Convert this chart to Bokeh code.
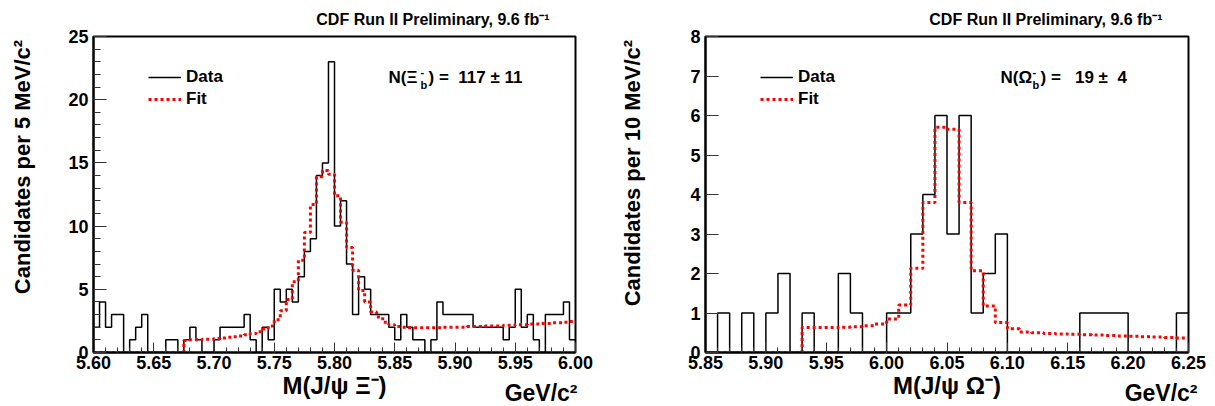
import numpy as np
from bokeh.plotting import figure
from bokeh.layouts import row
from bokeh.models import (Range1d, FixedTicker, PrintfTickFormatter, Label,
                          Legend, LegendItem, Title)
from bokeh.embed import file_html
from bokeh.resources import INLINE

FONT = "Liberation Sans"
NB = "\u00a0"

# ---------------- data ----------------
# Xi_b^- : 5 MeV bins from 5.60 to 6.00 GeV
xi_range = (5.60, 6.00)
xi_counts = [2, 4, 2, 3, 3, 0, 1, 2, 3, 0,
             0, 0, 1, 1, 0, 1, 2, 1, 0, 0,
             1, 2, 2, 2, 2, 3, 1, 0, 2, 1,
             5, 4, 5, 4, 6, 8, 9, 14, 15, 23,
             10, 12, 7, 3, 6, 5, 3, 3, 3, 2,
             1, 3, 2, 1, 1, 0, 1, 4, 3, 3,
             3, 3, 3, 2, 2, 2, 2, 2, 1, 2,
             5, 2, 3, 1, 0, 3, 3, 3, 4, 1]
xi_fit = [0, 0, 0, 0, 0, 0, 0, 0, 0, 0,
          0, 0, 0, 0, 0, 0.95, 1.0, 1.0, 1.05, 1.05,
          1.1, 1.15, 1.2, 1.25, 1.3, 1.4, 1.5, 1.65, 1.85, 2.1,
          2.6, 3.3, 4.2, 5.6, 7.3, 9.5, 11.7, 13.9, 14.4, 14.1,
          12.4, 10.3, 8.3, 6.5, 4.9, 4.0, 3.2, 2.8, 2.4, 2.2,
          2.05, 2.0, 1.95, 1.95, 1.95, 1.95, 1.95, 1.95, 2.0, 2.0,
          2.0, 2.0, 2.05, 2.05, 2.05, 2.1, 2.1, 2.1, 2.15, 2.15,
          2.2, 2.2, 2.25, 2.25, 2.3, 2.3, 2.35, 2.35, 2.4, 2.45]
xi_yticks = [0, 5, 10, 15, 20, 25]
xi_xticks = [5.60, 5.65, 5.70, 5.75, 5.80, 5.85, 5.90, 5.95, 6.00]

# Omega_b^- : 10 MeV bins from 5.85 to 6.25 GeV
om_range = (5.85, 6.25)
om_counts = [0, 1, 0, 1, 0, 1, 2, 0, 1, 0,
             0, 2, 1, 0, 0, 1, 1, 3, 4, 6,
             3, 6, 1, 2, 3, 0, 0, 0, 0, 0,
             0, 1, 1, 1, 1, 0, 0, 0, 0, 1]
om_fit = [0, 0, 0, 0, 0, 0, 0, 0, 0.63, 0.63,
          0.63, 0.64, 0.65, 0.68, 0.72, 0.85, 1.2, 2.13, 3.8, 5.7,
          5.65, 3.8, 2.07, 1.18, 0.76, 0.6, 0.52, 0.5, 0.48, 0.47,
          0.46, 0.45, 0.44, 0.43, 0.42, 0.41, 0.4, 0.39, 0.38, 0.37]
om_yticks = [0, 1, 2, 3, 4, 5, 6, 7, 8]
om_xticks = [5.85, 5.90, 5.95, 6.00, 6.05, 6.10, 6.15, 6.20, 6.25]

TITLE = "CDF Run II Preliminary, 9.6 fb\u207b\u00b9"


def make_panel(xr, counts, fit, yticks, xticks, ymax, minor_y,
               border_left, frame_w, border_right, ylabel, xlabel,
               ylabel_standoff, ylabel_pad, unit_dx):
    p = figure(output_backend="svg", toolbar_location=None,
               frame_width=frame_w, frame_height=316,
               min_border_left=border_left, min_border_right=border_right,
               min_border_top=34, min_border_bottom=52,
               x_range=Range1d(*xr), y_range=Range1d(0, ymax))
    p.background_fill_color = "white"
    p.border_fill_color = "white"
    p.outline_line_color = "black"
    p.outline_line_width = 2
    p.xgrid.visible = False
    p.ygrid.visible = False

    n = len(counts)
    edges = np.linspace(xr[0], xr[1], n + 1)
    hy = list(counts) + [counts[-1]]
    fy = list(fit) + [fit[-1]]
    r_data = p.step(edges, hy, mode="after", line_color="black", line_width=1.5)
    r_fit = p.step(edges, fy, mode="after", line_color="#ff0000", line_width=3,
                   line_dash="3 3")

    xminor = list(np.round(np.arange(xr[0], xr[1] + 1e-9, 0.01), 3))
    p.xaxis.ticker = FixedTicker(ticks=xticks, minor_ticks=xminor)
    p.xaxis.formatter = PrintfTickFormatter(format="%.2f")
    p.yaxis.ticker = FixedTicker(ticks=yticks, minor_ticks=minor_y)
    for ax in (p.xaxis, p.yaxis):
        ax.axis_line_width = 2
        ax.major_tick_out = 0
        ax.minor_tick_out = 0
        ax.major_tick_line_width = 1
        ax.minor_tick_line_width = 1
        ax.major_tick_line_color = "#333333"
        ax.minor_tick_line_color = "#333333"
        ax.major_label_text_font = FONT
        ax.major_label_text_font_style = "bold"
        ax.major_label_text_font_size = "18px"
        ax.major_label_text_color = "black"
        ax.axis_label_text_font = FONT
        ax.axis_label_text_font_style = "bold"
        ax.axis_label_text_color = "black"
    p.xaxis.major_tick_in = 10
    p.xaxis.minor_tick_in = 5
    p.xaxis.major_label_standoff = 3
    p.yaxis.major_tick_in = 13
    p.yaxis.minor_tick_in = 7
    p.yaxis.major_label_standoff = 5

    # ROOT puts the y title towards the top end: leading no-break spaces shift it up
    p.yaxis.axis_label = NB * ylabel_pad + ylabel
    p.yaxis.axis_label_text_font_size = "22px"
    p.yaxis.axis_label_standoff = ylabel_standoff
    p.xaxis.axis_label = xlabel
    p.xaxis.axis_label_text_font_size = "24px"
    p.xaxis.axis_label_standoff = 0

    p.add_layout(Title(text=TITLE, align="right", offset=26, standoff=17,
                       text_font=FONT, text_font_style="bold",
                       text_font_size="16px", text_color="black"), "above")

    leg = Legend(items=[LegendItem(label="Data", renderers=[r_data]),
                        LegendItem(label="Fit", renderers=[r_fit])],
                 location=(55, 242), padding=0, margin=0, spacing=0,
                 label_height=22, glyph_height=22, glyph_width=33,
                 label_standoff=5, label_text_font=FONT,
                 label_text_font_style="bold", label_text_font_size="17px",
                 label_text_color="black",
                 border_line_alpha=0, background_fill_alpha=0)
    p.add_layout(leg)

    # unit label at the lower right, below the axis (side panel, not clipped)
    p.add_layout(Label(x=frame_w + unit_dx, y=35, x_units="screen", y_units="screen",
                       text="GeV/c\u00b2", text_font=FONT, text_font_style="bold",
                       text_font_size="23px", text_align="right",
                       text_baseline="middle", text_color="black"), "below")
    return p


def put(p, fr, X, Y, text, size, align="left", baseline="middle"):
    fx, fy, fw, fh, x0, x1, y0, y1 = fr
    x = x0 + (X - fx) / fw * (x1 - x0)
    y = y0 + (fy + fh - Y) / fh * (y1 - y0)
    p.add_layout(Label(x=x, y=y, text=text, text_font_size=f"{size}px",
                       text_font=FONT, text_font_style="bold",
                       text_align=align, text_baseline=baseline,
                       text_color="black"))


p1 = make_panel(xi_range, xi_counts, xi_fit, xi_yticks, xi_xticks, 25,
                list(range(0, 26)), 93, 482, 32,
                "Candidates per 5 MeV/c\u00b2", "M(J/\u03c8 \u039e\u207b)", 30, 9, 2)
p2 = make_panel(om_range, om_counts, om_fit, om_yticks, om_xticks, 8,
                [], 98, 483, 18,
                "Candidates per 10 MeV/c\u00b2", "M(J/\u03c8 \u03a9\u207b)", 42, 7, 9)

# frame geometry in page pixels (for placing the texts inside the frames)
fr1 = (93, 34, 482, 316, xi_range[0], xi_range[1], 0, 25)
fr2 = (705, 34, 483, 316, om_range[0], om_range[1], 0, 8)

for p, fr, dx, part, nval in (
        (p1, fr1, 0, "\u039e", ")" + NB + "=" + NB + NB + "117" + NB + "\u00b1" + NB + "11"),
        (p2, fr2, 612, "\u03a9", ")" + NB + "=" + NB + NB + NB + "19" + NB + "\u00b1" + NB + NB + "4")):
    put(p, fr, 388 + dx, 75, "N(" + part, 17)
    put(p, fr, 420 + dx, 69, "-", 11)
    put(p, fr, 420 + dx, 82, "b", 11)
    put(p, fr, 428 + dx, 75, nval, 17)

layout = row(p1, p2)
open("out.html", "w").write(file_html(layout, INLINE))
